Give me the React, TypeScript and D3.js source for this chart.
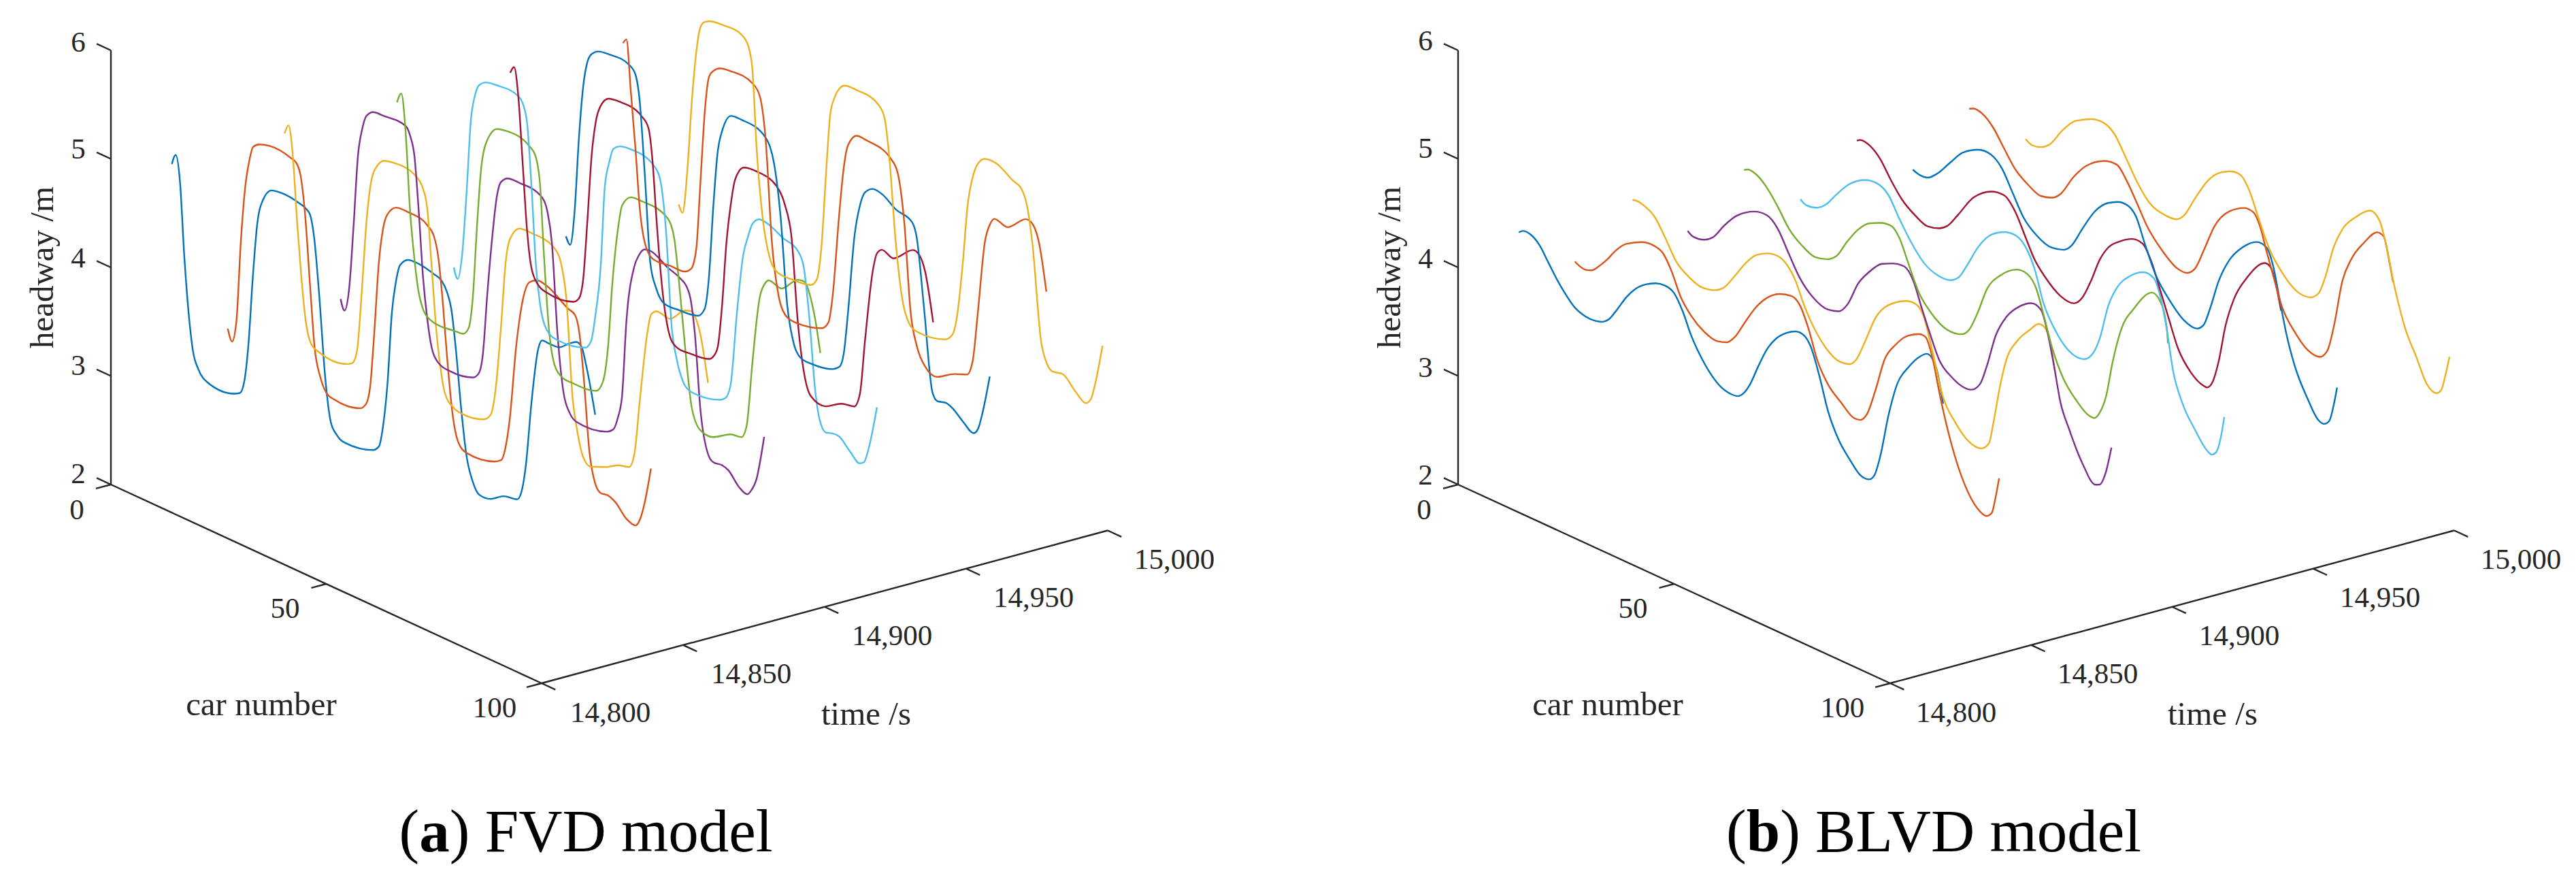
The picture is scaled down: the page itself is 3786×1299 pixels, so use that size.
import React from "react";
import * as d3 from "d3";

// ---------- shared labels ----------
const times = [14820, 14840, 14860, 14880, 14900, 14920, 14940, 14960, 14980, 15000];
const colors = ["#0072BD", "#D95319", "#EDB120", "#7E2F8E", "#77AC30", "#4DBEEE", "#A2142F", "#0072BD", "#D95319", "#EDB120"];
const headwayTicks = [2, 3, 4, 5, 6];
const carTicks = [0, 50, 100];
const timeTicks = [14800, 14850, 14900, 14950, 15000];

// ---------- FVD model: car number and headway, one pair per time slice ----------
const fvdCar1 = [1.0,1.9,2.9,3.9,4.9,5.9,7.2,9.3,15.5,16.8,17.8,18.8,19.8,20.8,22.1,24.1,26.6,30.6,32.1,33.1,34.1,35.1,36.7,37.9,39.2,40.7,47.7,49.1,50,51.1,52.1,53,54,55.8,58.3,61.8,63.7,64.9,65.9,66.9,68.2,69.4,70.9,72.4,75,78,81.2,82.2,83.2,84.5,86,87,88.5,91,93.1,94.9,96.1,97.3,99.3];
const fvdHw1 = [4.83,4.93,4.70,4.03,3.53,3.20,3.05,2.97,2.98,3.01,3.13,3.50,4.13,4.63,4.88,5.01,5.03,5.01,4.99,4.95,4.74,4.31,3.48,3.13,3.04,3.00,3.05,3.11,3.30,3.74,4.40,4.69,4.87,4.95,4.96,4.93,4.90,4.82,4.68,4.35,3.80,3.40,3.18,3.09,3.10,3.18,3.21,3.30,3.56,4.16,4.67,4.78,4.78,4.79,4.86,4.91,4.89,4.72,4.32];
const fvdCar2 = [.85,1.85,2.86,3.87,4.9,5.9,6.7,8.1,10.4,15.5,16.7,17.8,18.8,20,21,22.3,23.7,25.5,31.6,32.9,33.9,34.9,35.9,36.9,37.9,39.9,42.7,47.2,48.7,49.7,50.7,51.7,53,54.3,56.3,62.8,64.3,65.3,66.3,67.8,69.4,70.9,72.6,74.9,79.9,81.5,82.5,83.5,84.8,86.2,87.5,89,90.8,93.5,95.5,96.6,97.6,99.1];
const fvdHw2 = [3.17,3.07,3.28,4.02,4.55,4.82,4.95,5.0,5.03,5.01,4.99,4.88,4.55,3.89,3.37,3.12,3.0,2.97,3.0,3.06,3.24,3.78,4.41,4.75,4.9,5.0,5.01,4.97,4.9,4.73,4.36,3.87,3.35,3.11,3.04,3.08,3.12,3.25,3.53,4.23,4.70,4.88,4.93,4.92,4.80,4.77,4.62,4.23,3.58,3.30,3.24,3.25,3.22,3.11,3.09,3.17,3.33,3.68];
const fvdCar3 = [.9,1.8,2.8,3.8,4.8,5.8,7.1,8.9,15.4,16.6,17.7,18.7,19.9,20.9,22.2,24,26,31.5,32.8,34,35,36.1,37.1,38.1,40.1,42.1,47.1,48.7,50,51.2,52.2,53.2,55.4,58.2,63.8,65,66.3,67.8,68.8,70.3,72,75.4,78.4,80.9,82.1,83.4,85.1,86,87.2,90.4,93.9,95.4,96.4,97.4,99.2];
const fvdHw3 = [4.83,4.92,4.66,4.07,3.57,3.19,3.0,2.96,2.97,3.0,3.13,3.63,4.36,4.73,4.91,5.0,5.02,4.99,4.93,4.75,4.25,3.67,3.33,3.12,3.02,3.0,3.04,3.11,3.41,4.0,4.57,4.81,4.95,4.96,4.91,4.82,4.51,3.6,3.34,3.11,3.06,3.12,3.19,3.22,3.36,3.89,4.53,4.72,4.77,4.76,4.90,4.92,4.87,4.75,4.33];
const fvdCar4 = [.75,1.65,2.76,3.77,4.78,5.78,6.8,8.3,10.8,15.9,16.9,17.9,18.9,19.9,20.9,21.9,23.4,26.4,31.5,32.8,33.8,34.8,36,37,38,39.5,42.1,47.6,48.8,49.8,51.1,52.5,54,55.6,62.6,64.1,65.1,66.1,67.1,68.9,70,71.4,72.7,76.7,79.8,81,82,83,84.3,86.1,87.3,89.3,90.8,93.3,95.2,96.2,97.2,99.1];
const fvdHw4 = [3.16,3.07,3.30,3.89,4.55,4.82,4.96,5.02,5.03,5.03,4.96,4.79,4.30,3.71,3.34,3.10,2.99,2.96,3.0,3.06,3.26,3.82,4.39,4.76,4.92,4.98,4.99,4.95,4.84,4.58,3.77,3.25,3.08,3.03,3.07,3.12,3.24,3.46,4.16,4.70,4.83,4.91,4.92,4.84,4.79,4.75,4.65,4.35,3.67,3.29,3.24,3.25,3.23,3.12,3.09,3.15,3.25,3.69];
const fvdCar5 = [.7,1.7,2.7,3.7,4.7,5.7,6.7,8.3,14.3,16.1,17.3,18.3,19.3,20.3,21.8,23.9,25.9,31.4,32.9,33.9,34.9,36,37.3,39,41.5,47,48.5,49.7,50.7,52,53,55,57.5,63.6,65.1,66.1,67.6,69.1,71.1,74.1,78.2,80.7,81.9,83.2,84.9,86.2,87,90,93.8,95.3,96.8,97.8,99];
const fvdHw5 = [4.83,4.93,4.60,3.91,3.48,3.18,3.04,2.97,2.97,2.98,3.05,3.35,4.04,4.6,4.88,5.01,5.03,4.99,4.92,4.69,4.0,3.38,3.08,3.0,2.99,3.02,3.13,3.47,4.07,4.60,4.84,4.95,4.96,4.91,4.75,4.41,3.80,3.28,3.10,3.09,3.19,3.21,3.34,3.93,4.57,4.73,4.77,4.75,4.90,4.91,4.78,4.61,4.32];
const fvdCar6 = [.75,1.65,2.7,3.7,4.7,5.7,6.7,8.2,10.7,15.8,16.8,17.8,18.8,19.8,20.8,22.3,24.8,31.3,32.6,33.6,34.9,35.8,36.8,37.8,39.3,41.9,47.4,48.7,50,51.4,52.4,54,56,62.5,63.8,65,66.5,67.9,69.1,70.1,71.6,74.1,77.1,80.7,82,83.2,84.7,85.7,87.2,88.7,90.2,92.7,95,96,97.1,99];
const fvdHw6 = [3.17,3.08,3.33,3.90,4.59,4.85,4.96,5.01,5.03,5.02,4.97,4.80,4.24,3.55,3.19,2.99,2.94,2.99,3.07,3.32,3.83,4.55,4.79,4.94,4.99,5.01,4.95,4.85,4.42,3.52,3.29,3.09,3.03,3.08,3.12,3.26,3.96,4.50,4.71,4.84,4.91,4.90,4.84,4.78,4.66,4.26,3.56,3.32,3.23,3.25,3.25,3.16,3.09,3.12,3.27,3.68];
const fvdCar7 = [.7,1.6,2.6,3.6,4.6,5.6,7.1,9.4,15.4,16.6,17.6,18.6,19.6,20.6,21.7,23.5,26.2,31.2,32.8,33.8,34.6,36,37.8,39.3,42.8,46.9,48,48.9,49.9,50.9,51.9,52.9,54.9,57.9,63,64.5,66,67.5,69,70.5,74,77.6,80.6,81.9,83.1,84.9,85.9,87,89.7,94.2,95.7,97,98.9];
const fvdHw7 = [4.82,4.89,4.63,4.04,3.45,3.12,2.99,2.95,2.98,3.03,3.21,3.77,4.40,4.74,4.90,5.0,5.02,4.98,4.90,4.59,4.13,3.48,3.07,3.0,3.0,3.03,3.08,3.18,3.58,4.17,4.54,4.79,4.94,4.96,4.89,4.77,4.51,3.74,3.29,3.12,3.09,3.18,3.21,3.35,3.87,4.54,4.72,4.77,4.74,4.90,4.88,4.76,4.32];
const fvdCar8 = [.5,1.5,2.5,3.5,4.5,5.5,6.5,8,10.6,15.1,16.6,17.6,18.8,20.1,21.4,23.2,26.7,31.2,32.7,33.7,34.7,35.7,36.8,38.8,41.3,46.8,47.8,48.8,50.3,51.9,53.4,54.9,57.9,62.4,64,65,66,67.5,68.8,70,71.7,74,77.1,80.9,81.9,83.6,85.6,86.8,88.6,90.2,92.7,95.2,96.2,97.2,98.9];
const fvdHw8 = [3.17,3.11,3.43,4.12,4.62,4.87,4.96,5.01,5.03,5.02,4.96,4.74,4.08,3.28,3.08,2.97,2.97,3.0,3.09,3.40,4.06,4.58,4.81,4.98,4.99,4.93,4.87,4.73,4.28,3.47,3.15,3.05,3.04,3.08,3.13,3.27,3.67,4.40,4.71,4.85,4.91,4.90,4.82,4.77,4.66,4.05,3.29,3.23,3.25,3.23,3.15,3.09,3.15,3.31,3.68];
const fvdCar9 = [.6,1.4,2.4,3.5,4.5,5.7,7.5,11.5,15,16.4,17.6,18.6,19.6,20.6,21.6,23.1,25.6,30.7,32.4,33.7,35.2,36.7,38.2,40.7,46.8,48.3,49.3,50.8,51.8,52.8,54.8,57.3,62.9,64.4,65.9,67.4,68.9,70.9,73.5,77.5,80.5,81.8,83,84.6,85.9,86.8,89.9,94.1,95.6,97.2,98.9];
const fvdHw9 = [4.81,4.86,4.41,3.89,3.36,3.06,2.95,2.96,2.97,3.02,3.22,3.87,4.53,4.87,4.94,4.99,5.01,4.99,4.90,4.54,3.60,3.15,3.0,2.97,3.03,3.11,3.38,4.15,4.58,4.82,4.95,4.95,4.88,4.78,4.36,3.55,3.26,3.11,3.07,3.17,3.22,3.37,3.84,4.51,4.71,4.77,4.75,4.90,4.89,4.74,4.32];
const fvdCar10 = [.4,1.3,2.4,3.4,4.4,5.4,6.4,7.6,10.5,15,16.5,17.5,18.5,20,21.5,23,26.6,31.1,32.4,33.6,34.6,35.6,36.6,37.7,38.9,41.7,46.7,48.2,49.2,50.8,52.3,53.8,55.8,62.3,63.9,64.9,66.4,67.4,68.9,69.9,71.4,74,78,80,81.2,82.5,84.5,86,87.2,89.5,92.6,94.9,96.1,97.1,98.8];
const fvdHw10 = [3.18,3.12,3.53,4.16,4.63,4.90,4.97,5.0,5.02,5.01,4.94,4.74,4.02,3.38,3.08,2.98,2.97,3.0,3.07,3.43,4.09,4.66,4.83,4.93,4.98,4.99,4.95,4.85,4.55,3.75,3.26,3.07,3.02,3.07,3.14,3.30,3.87,4.37,4.72,4.83,4.90,4.91,4.82,4.78,4.66,4.33,3.47,3.27,3.23,3.25,3.14,3.08,3.14,3.30,3.68];

// ---------- BLVD model ----------
const blvdCar1 = [1,1.9,3.8,5.8,7.8,9.8,11.8,13.8,16.3,18.8,20.3,21.8,23.8,25.9,27.9,30.4,32.6,34.9,36.9,38.9,40.9,42.9,45.4,47.9,50,51.7,53,54.5,56.5,58.5,60.5,63,65,67,68.5,70.5,72.6,75.1,77.6,80.1,82.1,83.3,84.6,86.6,88.6,91.2,93.7,95.4,96.7,97.7,99.2];
const blvdHw1 = [4.20,4.23,4.23,4.17,4.05,3.93,3.83,3.75,3.71,3.71,3.73,3.78,3.91,4.06,4.17,4.26,4.31,4.33,4.30,4.17,3.98,3.84,3.71,3.63,3.61,3.62,3.67,3.78,3.99,4.18,4.31,4.41,4.46,4.46,4.39,4.16,3.86,3.64,3.51,3.41,3.41,3.47,3.66,4.09,4.41,4.61,4.75,4.81,4.79,4.71,4.42];
const blvdCar2 = [.9,1.9,3.5,4.8,6.3,8.3,10.3,12.8,16.3,19.3,21.3,23.3,25.3,27.9,30.9,33.9,36.1,37.9,40.4,42.9,45.4,48.4,51,53,55,57,59.5,62.5,65.5,67,68.5,70.5,72.6,75.1,78.1,80.6,82.1,83.6,85.6,88.1,91.1,94.1,96.2,97.4,98.2,99.1];
const blvdHw2 = [3.79,3.77,3.76,3.78,3.84,3.94,4.06,4.17,4.25,4.27,4.24,4.11,3.92,3.78,3.69,3.66,3.69,3.77,3.96,4.14,4.27,4.36,4.39,4.34,4.16,3.91,3.73,3.62,3.53,3.54,3.62,3.88,4.20,4.38,4.52,4.58,4.58,4.43,4.07,3.70,3.39,3.22,3.19,3.24,3.38,3.59];
const blvdCar3 = [1.2,1.9,3.7,6.3,8.8,11.3,14.3,17.3,20.3,22.3,24.8,27.4,29.9,32.4,34.9,36.9,38.9,40.9,43.4,45.9,49,51.5,53,55,57.5,60.5,64.5,67,68.6,70.6,73,76.1,79.1,81.9,83.7,84.7,86.2,87.7,90.2,93.2,95.2,96.7,97.7,99];
const blvdHw3 = [4.22,4.23,4.22,4.16,4.01,3.84,3.75,3.71,3.74,3.80,3.95,4.12,4.24,4.30,4.32,4.28,4.17,3.98,3.80,3.68,3.61,3.63,3.70,3.90,4.17,4.34,4.45,4.46,4.38,4.10,3.73,3.53,3.42,3.41,3.49,3.69,4.05,4.33,4.55,4.71,4.80,4.79,4.71,4.43];
const blvdCar4 = [.9,2.2,4.8,6.8,9.3,12.3,16.3,19.3,21.8,24.3,26.9,29.9,33.4,35.9,37.9,40.4,42.9,45.9,48.4,51.1,53.1,55.1,57.1,59.1,62.1,66.6,68.6,70.2,72.2,74.7,77.7,80.4,82.7,84.2,85.7,87.2,89.2,92.3,95.3,96.3,97.5,99];
const blvdHw4 = [3.79,3.76,3.78,3.84,3.99,4.14,4.25,4.27,4.19,4.01,3.83,3.71,3.66,3.69,3.79,4.03,4.18,4.31,4.36,4.38,4.29,4.07,3.86,3.67,3.56,3.53,3.62,3.82,4.13,4.35,4.50,4.58,4.56,4.38,4.10,3.79,3.58,3.32,3.18,3.20,3.31,3.59];
const blvdCar5 = [.9,1.7,3.8,6.3,8.8,11.3,14.3,17.3,20.1,22.3,24.8,27.4,29.9,32.4,34.9,36.9,38.9,41.4,44.4,47.9,51.3,53.1,55.1,57.1,60.1,64.1,66.6,68.6,70.2,72.2,74.7,77.7,80.7,82,83.2,84.7,86.2,88.2,91.2,95.3,97.3,98.8,99];
const blvdHw5 = [4.21,4.23,4.22,4.14,4.01,3.86,3.76,3.71,3.74,3.81,3.99,4.15,4.25,4.30,4.32,4.24,4.05,3.82,3.68,3.60,3.62,3.70,3.90,4.14,4.32,4.45,4.45,4.35,4.15,3.88,3.65,3.50,3.41,3.41,3.48,3.66,4.0,4.34,4.59,4.81,4.76,4.53,4.41];
const blvdCar6 = [.9,2.2,4.6,6.8,9.3,12.3,15.8,18.8,21.3,23.8,26.4,29.4,32.9,35.6,37.5,39.5,42,45,48,50.6,53.1,55.1,57.1,60.1,63.1,66.6,68.6,70.2,72.2,74.2,77.2,80.2,82.7,84.2,85.7,87.2,89.2,92.2,95.3,96.1,97.1,98.3,99];
const blvdHw6 = [3.80,3.77,3.79,3.86,4.0,4.15,4.25,4.27,4.21,4.04,3.88,3.74,3.68,3.69,3.75,3.90,4.11,4.28,4.36,4.38,4.31,4.15,3.88,3.66,3.54,3.53,3.62,3.79,4.13,4.33,4.49,4.58,4.57,4.43,4.15,3.79,3.55,3.35,3.20,3.19,3.23,3.41,3.59];
const blvdCar7 = [.9,1.7,3.8,6.3,8.8,11.3,14.3,17.3,19.9,21.9,24.4,27.9,32,35,37.5,40,42,44.5,48.1,51.1,53.1,55.1,57.1,59.1,61.6,64.6,67.1,69.1,71.1,73.2,75.2,78.2,81.2,82,83.2,84.7,86.2,88.2,91.2,95.3,96.8,98.3,99.1];
const blvdHw7 = [4.20,4.22,4.21,4.13,3.98,3.85,3.76,3.71,3.74,3.80,3.95,4.17,4.30,4.32,4.22,4.02,3.86,3.74,3.63,3.62,3.71,3.90,4.13,4.28,4.38,4.46,4.46,4.33,4.11,3.87,3.65,3.48,3.41,3.41,3.48,3.71,4.05,4.34,4.59,4.80,4.78,4.58,4.43];
const blvdCar8 = [.8,2.3,4.3,6.3,9.4,12.4,15.9,18.9,21.4,23.9,26.4,29.4,33,35.7,37.5,40,43,46,48.2,50.5,52.5,54.5,57,60.1,63.6,66.6,68.1,69.6,71.6,74.1,77.1,80.4,82.7,84.2,85.7,87.2,89.2,92.2,94.7,96,97.2,98.2,99];
const blvdHw8 = [3.79,3.77,3.78,3.85,4.01,4.16,4.25,4.26,4.18,4.0,3.82,3.71,3.66,3.69,3.76,3.96,4.18,4.31,4.36,4.37,4.30,4.09,3.85,3.68,3.55,3.53,3.59,3.77,4.06,4.30,4.47,4.58,4.57,4.43,4.15,3.87,3.60,3.35,3.20,3.19,3.24,3.40,3.58];
const blvdCar9 = [.8,1.8,3.8,6.3,8.9,11.4,14.4,17.4,19.9,21.9,24.9,27.9,32,35,37,39.5,42,45.5,49,51.2,53,55.1,57.6,61.1,64.4,66.6,68.1,69.6,71.1,73.1,76.2,79.2,82,83.7,85.2,87.2,89.2,92.2,95.2,96.7,98.2,98.9];
const blvdHw9 = [4.21,4.23,4.22,4.14,3.99,3.85,3.76,3.71,3.74,3.81,4.02,4.18,4.30,4.32,4.23,4.06,3.88,3.72,3.62,3.62,3.69,3.90,4.17,4.37,4.46,4.46,4.36,4.16,3.97,3.72,3.53,3.42,3.41,3.50,3.75,4.21,4.44,4.65,4.80,4.79,4.55,4.41];
const blvdCar10 = [.8,2.3,4.3,6.3,9.4,12.4,15.9,18.9,21.4,23.9,26.4,29.4,33,35.7,37.5,40,43,46,48.2,50.5,52.5,54.6,57.1,60.1,64.1,66.8,68.6,70.1,72.1,74.1,77.2,80.5,82.7,84.2,86.2,88.7,91.2,93.7,95.9,97,98,98.9];
const blvdHw10 = [3.79,3.76,3.78,3.84,4.03,4.17,4.25,4.27,4.21,4.05,3.88,3.73,3.68,3.69,3.76,3.96,4.18,4.31,4.36,4.37,4.27,4.06,3.82,3.65,3.53,3.54,3.61,3.78,4.10,4.30,4.47,4.59,4.54,4.35,3.99,3.65,3.44,3.23,3.19,3.24,3.40,3.58];

const fvdCars = [fvdCar1, fvdCar2, fvdCar3, fvdCar4, fvdCar5, fvdCar6, fvdCar7, fvdCar8, fvdCar9, fvdCar10];
const fvdHeadways = [fvdHw1, fvdHw2, fvdHw3, fvdHw4, fvdHw5, fvdHw6, fvdHw7, fvdHw8, fvdHw9, fvdHw10];
const blvdCars = [blvdCar1, blvdCar2, blvdCar3, blvdCar4, blvdCar5, blvdCar6, blvdCar7, blvdCar8, blvdCar9, blvdCar10];
const blvdHeadways = [blvdHw1, blvdHw2, blvdHw3, blvdHw4, blvdHw5, blvdHw6, blvdHw7, blvdHw8, blvdHw9, blvdHw10];

const FONT = "'Liberation Serif', serif";
const INK = "#262626";

type Layout = {
  x0: number; y0: number; carDx: number; carDy: number; timeDx: number; timeDy: number;
  hLabels: number[]; hLabelX: number;
  carLabels: [number, number][]; timeLabels: [number, number][];
  carTitle: [number, number]; timeTitle: [number, number]; hTitle: [number, number];
  caption: [number, number]; tag: string; name: string;
};

const layoutA: Layout = {
  x0: 163, y0: 712, carDx: 633, carDy: 292, timeDx: 832, timeDy: -224.5,
  hLabels: [695, 536, 378, 218, 61], hLabelX: 115,
  carLabels: [[113, 748], [419, 893], [727, 1039]],
  timeLabels: [[897, 1046], [1104, 989], [1311, 933], [1519, 877], [1726, 821]],
  carTitle: [384, 1034], timeTitle: [1273, 1048], hTitle: [61, 393],
  caption: [861, 1221], tag: "a", name: "FVD model",
};
const layoutB: Layout = {
  x0: 2143, y0: 712, carDx: 635, carDy: 292, timeDx: 829, timeDy: -224.5,
  hLabels: [697, 539, 379, 217, 59], hLabelX: 2095,
  carLabels: [[2093, 748], [2400, 893], [2708, 1039]],
  timeLabels: [[2875, 1046], [3083, 989], [3291, 933], [3498, 877], [3705, 821]],
  carTitle: [2363, 1034], timeTitle: [3252, 1048], hTitle: [2041, 393],
  caption: [2842, 1221], tag: "b", name: "BLVD model",
};

function Panel({ l, cars, headways }: { l: Layout; cars: number[][]; headways: number[][] }) {
  const carX = d3.scaleLinear().domain([0, 100]).range([0, l.carDx]);
  const carY = d3.scaleLinear().domain([0, 100]).range([0, l.carDy]);
  const timeX = d3.scaleLinear().domain([14800, 15000]).range([0, l.timeDx]);
  const timeY = d3.scaleLinear().domain([14800, 15000]).range([0, l.timeDy]);
  const hY = d3.scaleLinear().domain([2, 6]).range([0, -638]);
  const px = (t: number, c: number) => l.x0 + carX(c) + timeX(t);
  const py = (t: number, c: number, h: number) => l.y0 + carY(c) + timeY(t) + hY(h);
  const seg = (a: number[], b: number[]) =>
    `M${px(a[0], a[1])},${py(a[0], a[1], a[2])}L${px(b[0], b[1])},${py(b[0], b[1], b[2])}`;

  const axes = [
    seg([14800, 0, 2], [14800, 0, 6]),
    seg([14800, 0, 2], [14800, 100, 2]),
    seg([14800, 100, 2], [15000, 100, 2]),
    ...headwayTicks.map((h) => seg([14800, 0, h], [14800, -3.3, h])),
    ...carTicks.map((c) => seg([14800, c, 2], [14794.7, c, 2])),
    ...timeTicks.map((t) => seg([t, 100, 2], [t, 103.2, 2])),
  ];

  const text = (s: string, [x, y]: [number, number], size: number, key: string) => (
    <text key={key} x={x} y={y} fontSize={size} fontFamily={FONT} fill={INK} textAnchor="middle" dominantBaseline="central">{s}</text>
  );

  return (
    <g>
      {times.map((t, k) => {
        const line = d3.line<number>()
          .x((c) => px(t, c))
          .y((c, i) => py(t, c, headways[k][i]))
          .curve(d3.curveMonotoneX);
        return <path key={t} d={line(cars[k]) || ""} fill="none" stroke={colors[k]} strokeWidth={2.4} strokeLinejoin="round" />;
      })}
      <path d={axes.join("")} fill="none" stroke={INK} strokeWidth={2.4} />
      {headwayTicks.map((h, i) => text(String(h), [l.hLabelX, l.hLabels[i]], 43, "h" + h))}
      {carTicks.map((c, i) => text(String(c), l.carLabels[i], 43, "c" + c))}
      {timeTicks.map((t, i) => text(d3.format(",")(t), l.timeLabels[i], 43, "t" + t))}
      {text("car number", l.carTitle, 49, "ct")}
      {text("time /s", l.timeTitle, 49, "tt")}
      <text x={l.hTitle[0]} y={l.hTitle[1]} fontSize={49} fontFamily={FONT} fill={INK} textAnchor="middle" dominantBaseline="central"
        transform={`rotate(-90 ${l.hTitle[0]} ${l.hTitle[1]})`}>headway /m</text>
      <text x={l.caption[0]} y={l.caption[1]} fontSize={89} fontFamily={FONT} fill="#000" textAnchor="middle" dominantBaseline="central">
        (<tspan fontWeight="bold">{l.tag}</tspan>) {l.name}
      </text>
    </g>
  );
}

export default function App() {
  return (
    <svg width={3786} height={1299} viewBox="0 0 3786 1299" style={{ position: "absolute", left: 0, top: 0, background: "#fff" }}>
      <Panel l={layoutA} cars={fvdCars} headways={fvdHeadways} />
      <Panel l={layoutB} cars={blvdCars} headways={blvdHeadways} />
    </svg>
  );
}
